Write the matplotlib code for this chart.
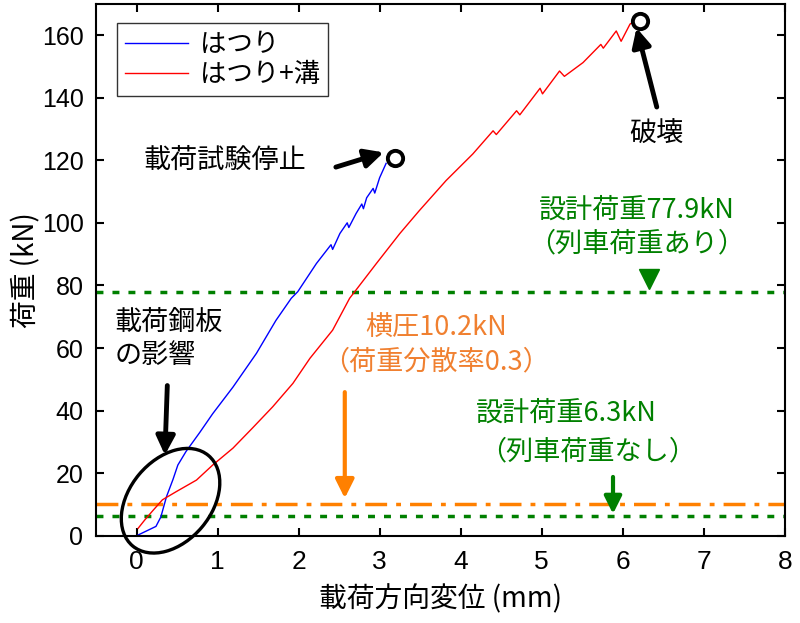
import matplotlib
matplotlib.use("Agg")
import matplotlib.pyplot as plt
import matplotlib.patches as mpatches
import matplotlib.transforms as mtransforms
from matplotlib import font_manager

plt.rcParams['font.family'] = ['Noto Sans CJK JP', 'DejaVu Sans']

# Data
blue_x = [0, 0.12, 0.24, 0.30, 0.37, 0.45, 0.51, 0.61, 0.78, 0.94, 1.19, 1.48, 1.72, 1.91, 1.99,
          2.22, 2.40, 2.42, 2.51, 2.60, 2.62, 2.71, 2.78, 2.80, 2.84, 2.92, 2.94, 3.00, 3.08]
blue_y = [0, 1.5, 3, 6, 12.5, 18, 22.6, 26.9, 33, 39, 47.5, 58.3, 68.8, 75.9, 78,
          87, 93, 91.5, 96.6, 100, 98.5, 103, 106, 104.5, 108, 111, 109.5, 114.4, 119]

red_x = [0.02, 0.1, 0.2, 0.32, 0.49, 0.74, 0.94, 1.19, 1.43, 1.68, 1.93, 2.14, 2.42, 2.63, 2.69,
         2.96, 3.25, 3.49, 3.82, 4.15, 4.40, 4.44, 4.69, 4.73, 4.98, 5.01, 5.22, 5.28, 5.51,
         5.73, 5.76, 5.92, 5.98, 6.09, 6.15]
red_y = [2.4, 5, 8, 11.5, 14.1, 17.8, 22.6, 28, 34.4, 41.2, 48.7, 56.7, 65.7, 75.9, 77.9,
         87, 96.6, 103.9, 113.5, 122, 129.4, 128.2, 135.8, 134.5, 143.0, 141.2, 148.5, 146.8, 151.2,
         157, 155.8, 161.3, 158, 163.5, 164.5]

series_labels = ['はつり', 'はつり+溝']
x_ticks = [0, 1, 2, 3, 4, 5, 6, 7, 8]
y_ticks = [0, 20, 40, 60, 80, 100, 120, 140, 160]
design_load_with_train = 77.9
design_load_no_train = 6.3
lateral_load = 10.2
stop_point = (3.19, 120.8)
failure_point = (6.21, 164.5)

GREEN = '#008000'
ORANGE = '#FF8000'
ORANGE_TXT = '#F08030'

names = {f.name for f in font_manager.fontManager.ttflist}
narrow = 'Liberation Sans Narrow' if 'Liberation Sans Narrow' in names else 'Liberation Sans'

fig = plt.figure(figsize=(8, 6.23), dpi=100)
ax = fig.add_axes([0.12, 0.14, 0.861, 0.854])

ax.plot(blue_x, blue_y, color='blue', lw=1.0, label=series_labels[0])
ax.plot(red_x, red_y, color='red', lw=1.0, label=series_labels[1])

ax.axhline(design_load_with_train, color=GREEN, lw=2.5, linestyle=(0, (2.0, 2.6)), zorder=1)
ax.axhline(design_load_no_train, color=GREEN, lw=2.5, linestyle=(0, (2.0, 2.6)), zorder=1)
ax.axhline(lateral_load, color=ORANGE, lw=2.5, linestyle=(0, (6.3, 2.6, 1.4, 2.6)), zorder=1)

ax.plot([stop_point[0]], [stop_point[1]], 'o', ms=11, mfc='white', mec='black', mew=2.8, zorder=5, clip_on=False)
ax.plot([failure_point[0]], [failure_point[1]], 'o', ms=11, mfc='white', mec='black', mew=2.8, zorder=5, clip_on=False)

ax.set_xlim(-0.5, 8)
ax.set_ylim(0, 170)
ax.set_xticks(x_ticks)
ax.set_yticks(y_ticks)
for lab in ax.get_xticklabels():
    lab.set_family([narrow, 'DejaVu Sans'])
    lab.set_fontsize(19)
for lab in ax.get_yticklabels():
    lab.set_family(['Liberation Sans', 'DejaVu Sans'])
    lab.set_fontsize(18)
ax.tick_params(direction='in', length=6, width=1.5, top=True, right=True)
ax.tick_params(axis='x', pad=10)
ax.tick_params(axis='y', pad=9)
for s in ax.spines.values():
    s.set_linewidth(1.5)

ax.set_xlabel('載荷方向変位 (mm)', fontsize=20, labelpad=8)
ax.set_ylabel('荷重 (kN)', fontsize=20, labelpad=0)

leg = ax.legend(loc='upper left', bbox_to_anchor=(0.03, 0.964), fontsize=19, frameon=True,
                fancybox=False, edgecolor='black', handlelength=2.4, borderpad=0.3,
                labelspacing=0.12, handletextpad=0.45, borderaxespad=0)
leg.get_frame().set_linewidth(1.0)

fs = 19.5
ax.text(1.09, 119.8, '載荷試験停止', fontsize=fs, ha='center', va='center')
ax.annotate('', xy=(3.05, 122.5), xytext=(2.46, 117.8),
            arrowprops=dict(arrowstyle='-|>', lw=3.5, color='black', mutation_scale=28,
                            shrinkA=0, shrinkB=0))
ax.text(6.42, 128.4, '破壊', fontsize=fs, ha='center', va='center')
ax.annotate('', xy=(6.17, 162.3), xytext=(6.42, 137),
            arrowprops=dict(arrowstyle='-|>', lw=3.5, color='black', mutation_scale=28,
                            shrinkA=0, shrinkB=0))

ax.text(6.17, 103.9, '設計荷重77.9kN', fontsize=fs, ha='center', va='center', color=GREEN)
ax.text(6.17, 93.4, '（列車荷重あり）', fontsize=fs, ha='center', va='center', color=GREEN)
ax.plot([6.33], [82], marker='v', ms=14, color=GREEN, zorder=4)

ax.text(3.70, 66.6, '横圧10.2kN', fontsize=fs, ha='center', va='center', color=ORANGE_TXT)
ax.text(3.70, 55.5, '（荷重分散率0.3）', fontsize=fs, ha='center', va='center', color=ORANGE_TXT)
ax.annotate('', xy=(2.57, 12.0), xytext=(2.57, 45.9),
            arrowprops=dict(arrowstyle='-|>', lw=3.0, color=ORANGE, mutation_scale=28,
                            shrinkA=0, shrinkB=0))

ax.text(5.31, 39.2, '設計荷重6.3kN', fontsize=fs, ha='center', va='center', color=GREEN)
ax.text(5.57, 26.8, '（列車荷重なし）', fontsize=fs, ha='center', va='center', color=GREEN)
ax.annotate('', xy=(5.88, 7.0), xytext=(5.88, 18.8),
            arrowprops=dict(arrowstyle='-|>', lw=3.0, color=GREEN, mutation_scale=26,
                            shrinkA=0, shrinkB=0))

ax.text(-0.27, 68.2, '載荷鋼板', fontsize=fs, ha='left', va='center')
ax.text(-0.27, 57.5, 'の影響', fontsize=fs, ha='left', va='center')
ax.annotate('', xy=(0.35, 25.8), xytext=(0.38, 48.0),
            arrowprops=dict(arrowstyle='-|>', lw=3.5, color='black', mutation_scale=28,
                            shrinkA=0, shrinkB=0))

ell_tr = mtransforms.Affine2D() + mtransforms.ScaledTranslation(0.42, 11.2, ax.transData)
ell = mpatches.Ellipse((0, 0), width=118, height=82, angle=50, fill=False, lw=2.4,
                       edgecolor='black', transform=ell_tr, clip_on=False, zorder=6)
ax.add_patch(ell)

fig.savefig('out.png', dpi=100)
